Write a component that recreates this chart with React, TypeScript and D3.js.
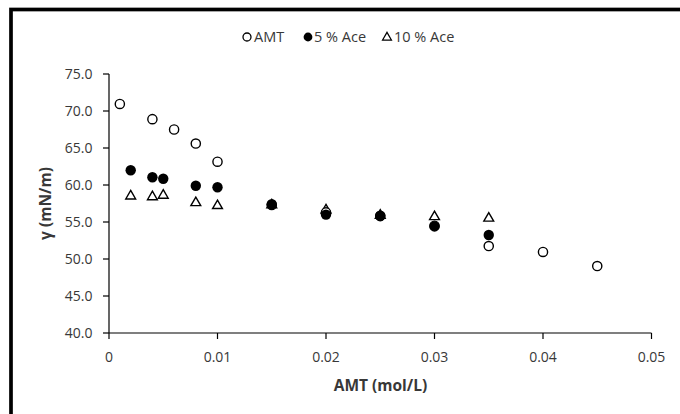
import React from 'react';
import * as d3 from 'd3';

// AMT concentration (mol/L) and surface tension γ (mN/m)
const amtX = [0.001, 0.004, 0.006, 0.008, 0.01, 0.015, 0.02, 0.025, 0.03, 0.035, 0.04, 0.045];
const amtY = [70.95, 68.9, 67.5, 65.6, 63.15, 57.3, 56.3, 55.8, 54.5, 51.75, 50.95, 49.05];

const ace5X = [0.002, 0.004, 0.005, 0.008, 0.01, 0.015, 0.02, 0.025, 0.03, 0.035];
const ace5Y = [62.0, 61.05, 60.85, 59.9, 59.7, 57.4, 56.0, 55.85, 54.4, 53.25];

const ace10X = [0.002, 0.004, 0.005, 0.008, 0.01, 0.015, 0.02, 0.025, 0.03, 0.035];
const ace10Y = [58.5, 58.4, 58.6, 57.6, 57.2, 57.3, 56.6, 55.9, 55.7, 55.5];

const xTicks = [0, 0.01, 0.02, 0.03, 0.04, 0.05];
const yTicks = [40, 45, 50, 55, 60, 65, 70, 75];

const FONT = "'Open Sans', Lato, sans-serif";
const TXT = '#383838';

const App = () => {
    const width = 680;
    const height = 414;

    const x = d3.scaleLinear().domain([0, 0.05]).range([109, 651.5]);
    const y = d3.scaleLinear().domain([40, 75]).range([333, 74]);

    const tri = d3.symbol().type(d3.symbolTriangle).size(42)();
    const r = 4.6;

    return (
        <svg width={width} height={height} style={{ position: 'absolute', left: 0, top: 0, background: '#fff' }}>
            <rect x={0} y={0} width={width} height={height} fill="#fff" />
            <rect x={11} y={9.5} width={720} height={440} fill="none" stroke="#000" strokeWidth={3.7} />

            {/* legend */}
            <g fontFamily={FONT} fontSize={14.5} fill={TXT}>
                <circle cx={247} cy={37} r={4} fill="#fff" stroke="#000" strokeWidth={1.3} />
                <text x={254} y={37} dy="0.35em">AMT</text>
                <circle cx={308} cy={37} r={4.4} fill="#000" />
                <text x={314} y={37} dy="0.35em">5 % Ace</text>
                <path d={tri} transform="translate(387,37.5) scale(0.9)" fill="#fff" stroke="#000" strokeWidth={1.4} />
                <text x={394} y={37} dy="0.35em">10 % Ace</text>
            </g>

            {/* axes */}
            <line x1={x(0)} x2={x(0)} y1={y(75)} y2={y(40)} stroke="#000" strokeWidth={1.2} />
            <line x1={x(0)} x2={x(0.05)} y1={y(40)} y2={y(40)} stroke="#000" strokeWidth={1.2} />
            {yTicks.map(t => (
                <g key={'y' + t}>
                    <line x1={x(0) - 6} x2={x(0)} y1={y(t)} y2={y(t)} stroke="#000" strokeWidth={1.2} />
                    <text x={92.5} y={y(t)} dy="0.35em" textAnchor="end" fontFamily={FONT} fontSize={14} fill={TXT}>
                        {d3.format('.1f')(t)}
                    </text>
                </g>
            ))}
            {xTicks.map(t => (
                <g key={'x' + t}>
                    <line x1={x(t)} x2={x(t)} y1={y(40)} y2={y(40) + 6} stroke="#000" strokeWidth={1.2} />
                    <text x={x(t)} y={357} dy="0.35em" textAnchor="middle" fontFamily={FONT} fontSize={14} fill={TXT}>
                        {t === 0 ? '0' : String(t)}
                    </text>
                </g>
            ))}
            <text x={380.5} y={386} dy="0.35em" textAnchor="middle" fontFamily={FONT} fontSize={15.5} fontWeight="bold" fill={TXT}>
                AMT (mol/L)
            </text>
            <text transform={`translate(46,${(y(40) + y(75)) / 2}) rotate(-90)`} dy="0.35em" textAnchor="middle"
                fontFamily={FONT} fontSize={15.5} fontWeight="bold" fill={TXT}>
                γ (mN/m)
            </text>

            {/* series */}
            {ace10X.map((v, i) => (
                <path key={'t' + i} d={tri} transform={`translate(${x(v)},${y(ace10Y[i])})`}
                    fill="#fff" stroke="#000" strokeWidth={1.4} />
            ))}
            {amtX.map((v, i) => (
                <circle key={'a' + i} cx={x(v)} cy={y(amtY[i])} r={r} fill="#fff" stroke="#000" strokeWidth={1.4} />
            ))}
            {ace5X.map((v, i) => (
                <circle key={'b' + i} cx={x(v)} cy={y(ace5Y[i])} r={r + 0.6} fill="#000" />
            ))}
        </svg>
    );
};

export default App;
